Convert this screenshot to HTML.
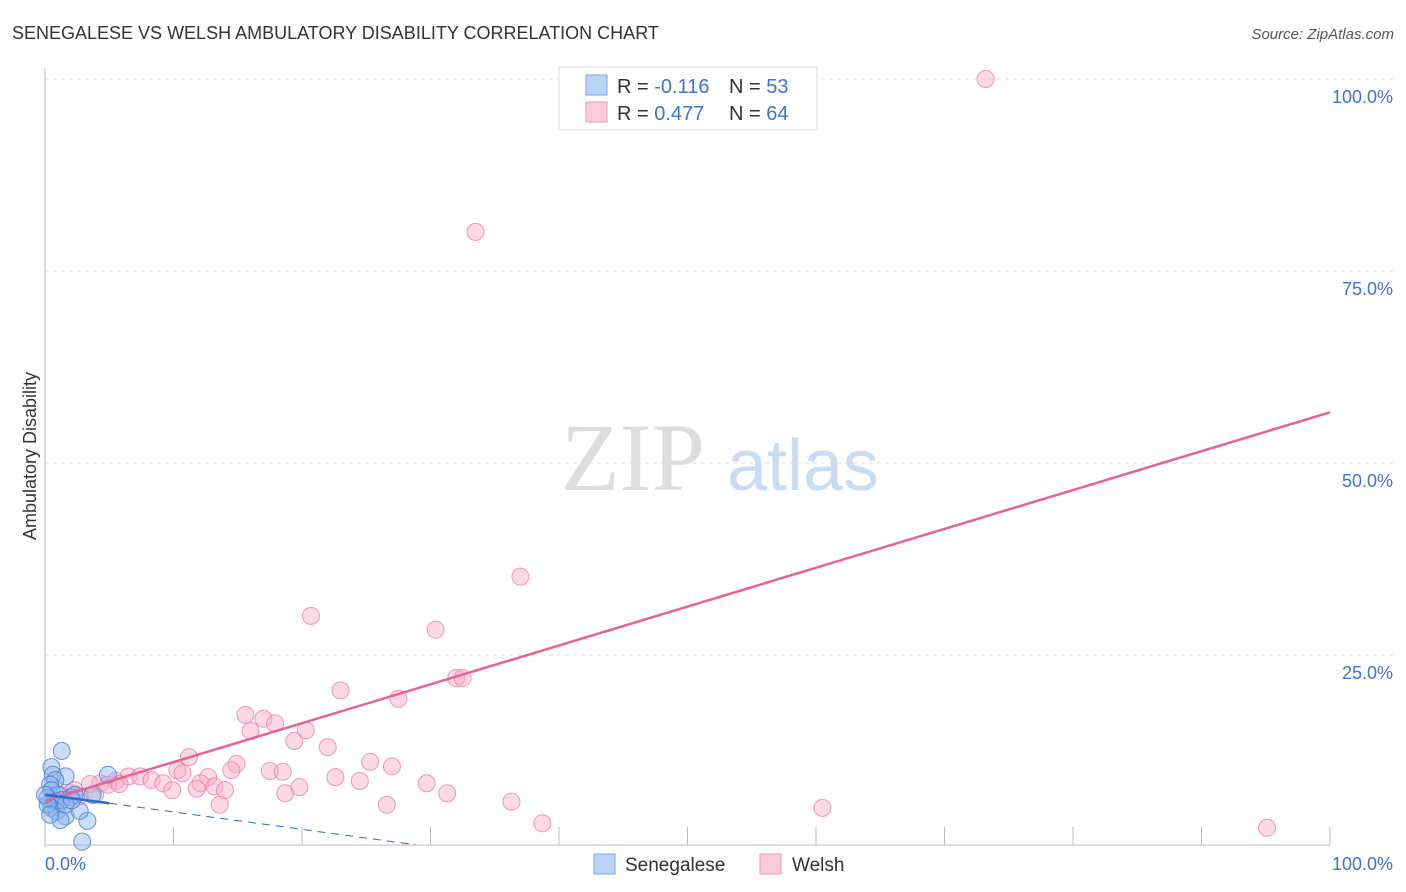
<!DOCTYPE html>
<html><head><meta charset="utf-8"><style>
body{margin:0;background:#fff;font-family:"Liberation Sans",sans-serif;}
#wrap{position:relative;width:1406px;height:892px;overflow:hidden;}
</style></head><body>
<div id="wrap">
<svg id="svg" width="1406" height="892" xmlns="http://www.w3.org/2000/svg">
<text x="12" y="39" font-size="18" fill="#333">SENEGALESE VS WELSH AMBULATORY DISABILITY CORRELATION CHART</text>
<text x="1394" y="39" font-size="15" fill="#555" font-style="italic" text-anchor="end">Source: ZipAtlas.com</text>
<text x="36" y="456" font-size="18" fill="#333" text-anchor="middle" transform="rotate(-90 36 456)">Ambulatory Disability</text>
<g>
<text x="633" y="490" font-size="96" fill="#ddd" font-family="Liberation Serif,serif" text-anchor="middle">ZIP</text>
<text x="803" y="490" font-size="72" fill="#c9dcf3" text-anchor="middle">atlas</text>
</g>
<g id="grid"></g>
<g id="pts"></g>
<g id="lines"></g>
<g>
<rect x="559" y="67" width="258" height="63" fill="#fff" stroke="#ddd"/>
<rect x="586" y="75" width="21" height="20" fill="#b9d3f5" stroke="#7aa6e6"/>
<rect x="586" y="102" width="21" height="20" fill="#fccad8" stroke="#f19ab3"/>
<text x="617" y="93" font-size="20" fill="#333">R = <tspan fill="#3b74d4">-0.116</tspan></text>
<text x="729" y="93" font-size="20" fill="#333">N = <tspan fill="#3b74d4">53</tspan></text>
<text x="617" y="120" font-size="20" fill="#333">R = <tspan fill="#3b74d4">0.477</tspan></text>
<text x="729" y="120" font-size="20" fill="#333">N = <tspan fill="#3b74d4">64</tspan></text>
</g>
<g>
<rect x="594" y="854" width="21" height="20" fill="#b9d3f5" stroke="#7aa6e6"/>
<text x="625" y="871" font-size="19" fill="#333">Senegalese</text>
<rect x="760" y="854" width="21" height="20" fill="#fccad8" stroke="#f19ab3"/>
<text x="792" y="871" font-size="19" fill="#333">Welsh</text>
</g>
<text x="45" y="870" font-size="18" fill="#3b74d4">0.0%</text>
<text x="1393" y="870" font-size="18" fill="#3b74d4" text-anchor="end">100.0%</text>
</svg>
</div>
<script>
const yTicks=[25,50,75,100];
const yTickLabels=["25.0%","50.0%","75.0%","100.0%"];
const xTickVals=[10,20,30,40,50,60,70,80,90,100];
const welshX=[73.2,54.2,33.5,37,20.7,30.4,32,32.5,23,27.5,15.6,17,17.9,16,20.3,19.4,22,11.2,14.9,25.3,27,10.3,14.5,17.5,18.5,10.7,12.7,22.6,24.5,29.7,6.5,7.4,5.5,4.3,3.5,8.3,9.2,12.1,13.2,9.9,11.8,14,18.7,19.8,31.3,13.6,26.6,36.3,60.5,38.7,95.1,1.2,2,2.7,0.8,3.9,4.9,5.8,2.3];
const welshY=[100,100,80.1,35.2,30.1,28.3,22,22,20.4,19.3,17.2,16.7,16.1,15.1,15.2,13.8,13,11.7,10.8,11.1,10.5,10,10,9.9,9.8,9.6,9.1,9.1,8.6,8.3,9.2,9.2,8.6,8.3,8.2,8.7,8.3,8.3,7.9,7.4,7.6,7.4,7,7.8,7,5.5,5.5,5.9,5.1,3.1,2.5,6.8,7,6.6,6.1,6.8,8.1,8.2,7.4];
const senX=[1.3,4.9,0.5,1.6,0.6,0.8,0.4,0.5,1,0.2,0.8,1.3,2,2.3,0.5,0.9,1.6,1.2,3.3,2.7,2.9,0.2,1.6,0,2.1,3.7,0.4];
const senY=[12.5,9.4,10.4,9.2,9.4,8.7,8.1,7.4,6.8,6.4,5.9,6.1,6.5,6.8,5.1,4.6,4,3.5,3.4,4.7,0.7,5.5,5.5,6.8,6.1,6.8,4.2];
const welshTrend=[0,6.0,100,56.6];
const senTrend=[0,6.8,5,5.7,28.8,0.3];

const X0=45,X1=1330,Y0=847,Y100=79;
const sx=v=>X0+(X1-X0)*v/100;
const sy=v=>Y0-(Y0-Y100)*v/100;
const NS="http://www.w3.org/2000/svg";
function mk(tag,attrs,parent){const e=document.createElementNS(NS,tag);for(const k in attrs)e.setAttribute(k,attrs[k]);parent.appendChild(e);return e;}
const grid=document.getElementById('grid');
const svg=document.getElementById('svg');
yTicks.forEach((t,i)=>{
  const l=mk('line',{x1:X0,x2:1394,y1:sy(t),y2:sy(t),stroke:'#ddd','stroke-dasharray':'4,4'},grid);
  
  
  const tx=mk('text',{x:1393,y:sy(t)+24,'font-size':18,fill:'#3b74d4','text-anchor':'end'},grid);
  tx.textContent=yTickLabels[i];
  
  
});
const ax=mk('line',{x1:X0,x2:X0,y1:68,y2:Y0,stroke:'#bbb'},grid);


const bx=mk('line',{x1:X0,x2:X1,y1:Y0-2,y2:Y0-2,stroke:'#bbb'},grid);


xTickVals.forEach(t=>{
  const l=mk('line',{x1:sx(t),x2:sx(t),y1:Y0-2,y2:Y0-20,stroke:'#bbb'},grid);
  
  
});
const pts=document.getElementById('pts');
welshX.forEach((x,i)=>{
  const c=mk('circle',{cx:sx(x),cy:sy(welshY[i]),r:8.5,fill:'rgba(248,170,195,0.45)',stroke:'rgba(232,130,165,0.8)','stroke-width':1},pts);
  
  
});
senX.forEach((x,i)=>{
  const c=mk('circle',{cx:sx(x),cy:sy(senY[i]),r:8.5,fill:'rgba(140,180,235,0.45)',stroke:'rgba(70,125,215,0.8)','stroke-width':1},pts);
  
  
});
const lines=document.getElementById('lines');
const wl=mk('line',{x1:sx(welshTrend[0]),y1:sy(welshTrend[1]),x2:sx(welshTrend[2]),y2:sy(welshTrend[3]),stroke:'#e8648f','stroke-width':2.5},lines);


const s1=mk('line',{x1:sx(senTrend[0]),y1:sy(senTrend[1]),x2:sx(senTrend[2]),y2:sy(senTrend[3]),stroke:'#2d6bd0','stroke-width':2.5},lines);


const s2=mk('line',{x1:sx(senTrend[2]),y1:sy(senTrend[3]),x2:sx(senTrend[4]),y2:sy(senTrend[5]),stroke:'#2d6bd0','stroke-width':1,'stroke-dasharray':'8,6'},lines);


</script>
</body></html>
